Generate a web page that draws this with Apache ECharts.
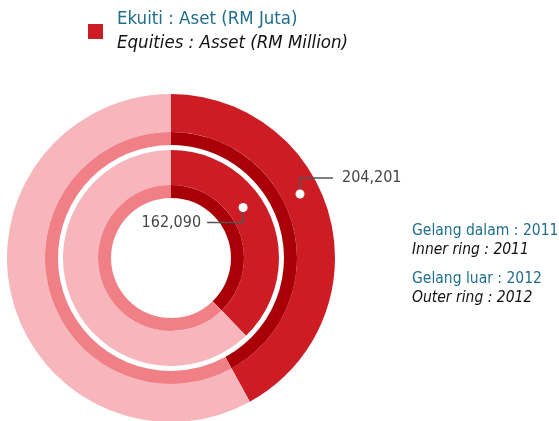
<!DOCTYPE html>
<html lang="ms">
<head>
    <meta charset="UTF-8">
    <title>Ekuiti : Aset</title>
    <script src="https://cdn.jsdelivr.net/npm/echarts@6/dist/echarts.min.js"></script>
    <style>
        html, body { margin: 0; padding: 0; background: #fff; }
    </style>
</head>
<body>

<div id="main" style="width: 559px;height:421px;"></div>

<script type="text/javascript">
    // data (RM juta)
    var years = ['2011', '2012'];
    var equity = [162090, 204201];
    var assets = [429000, 486000];   // dianggarkan dari sudut gelang
    var sliceNames = ['Ekuiti', 'Baki Aset'];

    var FONT = '"DejaVu Sans Condensed", "Liberation Sans Narrow", sans-serif';
    var TEAL = '#1f6e8c';
    var RED = '#cd1c24', DARK = '#a80006', PINK = '#f7b6bb', MIDPINK = '#f07f86';

    var cx = 171, cy = 258;

    function fmt(v) {
        return v.toString().replace(/\B(?=(\d{3})+(?!\d))/g, ',');
    }

    function ringData(i, main) {
        return [
            { name: sliceNames[0], value: equity[i], itemStyle: { color: main ? RED : DARK } },
            { name: sliceNames[1], value: assets[i] - equity[i], itemStyle: { color: main ? PINK : MIDPINK } }
        ];
    }

    function ring(i, radius, main) {
        return {
            type: 'pie',
            center: [cx, cy],
            radius: radius,
            startAngle: 90,
            clockwise: true,
            silent: true,
            label: { show: false },
            labelLine: { show: false },
            emphasis: { disabled: true },
            animation: false,
            data: ringData(i, main)
        };
    }

    // titik pada gelang (sudut dari arah jam 12)
    function polar(r, deg) {
        var a = deg * Math.PI / 180;
        return [cx + r * Math.sin(a), cy - r * Math.cos(a)];
    }

    function callout(i, r, deg, dy, len, side) {
        var p = polar(r, deg);
        var y = p[1] + dy;
        var x2 = p[0] + (side === 'right' ? len : -len);
        return [
            {
                type: 'polyline',
                shape: { points: [[p[0], p[1]], [p[0], y], [x2, y]] },
                style: { stroke: '#555', lineWidth: 1.5, fill: null },
                z: 10
            },
            {
                type: 'circle',
                shape: { cx: p[0], cy: p[1], r: 4.5 },
                style: { fill: '#fff' },
                z: 11
            },
            {
                type: 'text',
                x: side === 'right' ? x2 + 9 : x2 - 6,
                y: y,
                style: {
                    text: fmt(equity[i]),
                    font: '16px ' + FONT,
                    fill: '#454545',
                    align: side === 'right' ? 'left' : 'right',
                    verticalAlign: 'middle'
                },
                z: 11
            }
        ];
    }

    var sideRich = {
        a: { fontFamily: FONT, fontSize: 15.5, fontWeight: 'normal', color: TEAL, lineHeight: 20 },
        b: { fontFamily: FONT, fontSize: 15.5, fontWeight: 'normal', fontStyle: 'italic', color: '#111', lineHeight: 18 }
    };

    var myChart = echarts.init(document.getElementById('main'));

    myChart.setOption({
        animation: false,
        legend: {
            left: 83,
            top: 5,
            data: [sliceNames[0]],
            selectedMode: false,
            icon: 'rect',
            itemWidth: 15,
            itemHeight: 15,
            itemGap: 0,
            formatter: function () {
                return '{a|Ekuiti : Aset (RM Juta)}\n{b|Equities : Asset (RM Million)}';
            },
            textStyle: {
                padding: [0, 0, 0, 9],
                rich: {
                    a: { fontFamily: FONT, fontSize: 18.5, color: TEAL, lineHeight: 24 },
                    b: { fontFamily: FONT, fontSize: 18.5, fontStyle: 'italic', color: '#111', lineHeight: 24 }
                }
            }
        },
        title: [{
            left: 407,
            top: 216,
            text: '{a|Gelang dalam : ' + years[0] + '}\n{b|Inner ring : ' + years[0] + '}',
            textStyle: { fontWeight: 'normal', rich: sideRich }
        }, {
            left: 407,
            top: 264,
            text: '{a|Gelang luar : ' + years[1] + '}\n{b|Outer ring : ' + years[1] + '}',
            textStyle: { fontWeight: 'normal', rich: sideRich }
        }],
        series: [
            ring(1, [126, 164], true),
            ring(1, [113, 126], false),
            ring(0, [73, 108], true),
            ring(0, [60, 73], false)
        ],
        graphic: callout(1, 144, 63.6, -16, 33, 'right').concat(callout(0, 88, 55, 15, 36, 'left'))
    });
</script>

</body>
</html>
